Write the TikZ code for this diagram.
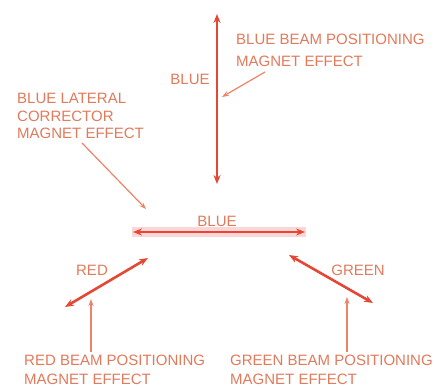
\documentclass[tikz,border=0pt]{standalone}
\usepackage{fontspec}
\setmainfont{Liberation Sans}
\usetikzlibrary{arrows.meta}

\definecolor{inkred}{RGB}{228,72,52}
\definecolor{inktext}{RGB}{226,122,92}
\definecolor{inklead}{RGB}{236,132,104}
\definecolor{bandpink}{RGB}{250,214,214}

\begin{document}
\begin{tikzpicture}[
  x=1pt,y=-1pt,
  font=\fontsize{15}{18.5}\selectfont,
  >={Stealth[length=9pt,width=7pt]},
  lab/.style={inner sep=0pt,text=inktext,align=left},
  beam/.style={<->,line width=2.6pt,inkred},
  lead/.style={->,line width=1.2pt,inklead,>={Stealth[length=7pt,width=5pt]}},
]
\useasboundingbox[fill=white] (0,0) rectangle (435,387);

% --- beam ends ---
\coordinate (vtop) at (217,14);
\coordinate (vbot) at (217,184);
\coordinate (hl) at (133,232);
\coordinate (hr) at (305,232);
\coordinate (rin) at (148,258);
\coordinate (rout) at (65,307);
\coordinate (gin) at (289,255);
\coordinate (gout) at (373,303);

% --- labels ---
\node[lab,anchor=north west,font=\fontsize{15}{22}\selectfont] (bbpm) at (236,34) {BLUE BEAM POSITIONING\\MAGNET EFFECT};
\node[lab] (vblue) at (190,79) {BLUE};
\node[lab,anchor=north west,font=\fontsize{15}{17.5}\selectfont] (blcm) at (17,93) {BLUE LATERAL\\CORRECTOR\\MAGNET EFFECT};
\node[lab] (hblue) at (217,221) {BLUE};
\node[lab] (red) at (92,270) {RED};
\node[lab] (green) at (358,270) {GREEN};
\node[lab,anchor=north west] (rbpm) at (24,355) {RED BEAM POSITIONING\\MAGNET EFFECT};
\node[lab,anchor=north west] (gbpm) at (230,355) {GREEN BEAM POSITIONING\\MAGNET EFFECT};

% --- leader ends ---
\coordinate (sbb) at (265,72);
\coordinate (tbb) at (222,97);
\coordinate (sbl) at (82,143);
\coordinate (tbl) at (146,209);
\coordinate (srb) at (91,352);
\coordinate (trb) at (91,299);
\coordinate (sgb) at (347,352);
\coordinate (tgb) at (347,297);

% --- beams ---
\fill[bandpink] (132,227) rectangle (306,237);
\draw[beam] (vtop) -- (vbot);
\draw[beam,line width=2pt] (hl) -- (hr);
\draw[beam] (rin) -- (rout);
\draw[beam] (gin) -- (gout);

% --- leaders ---
\draw[lead] (sbb) -- (tbb);
\draw[lead] (sbl) -- (tbl);
\draw[lead] (srb) -- (trb);
\draw[lead] (sgb) -- (tgb);

\end{tikzpicture}
\end{document}
